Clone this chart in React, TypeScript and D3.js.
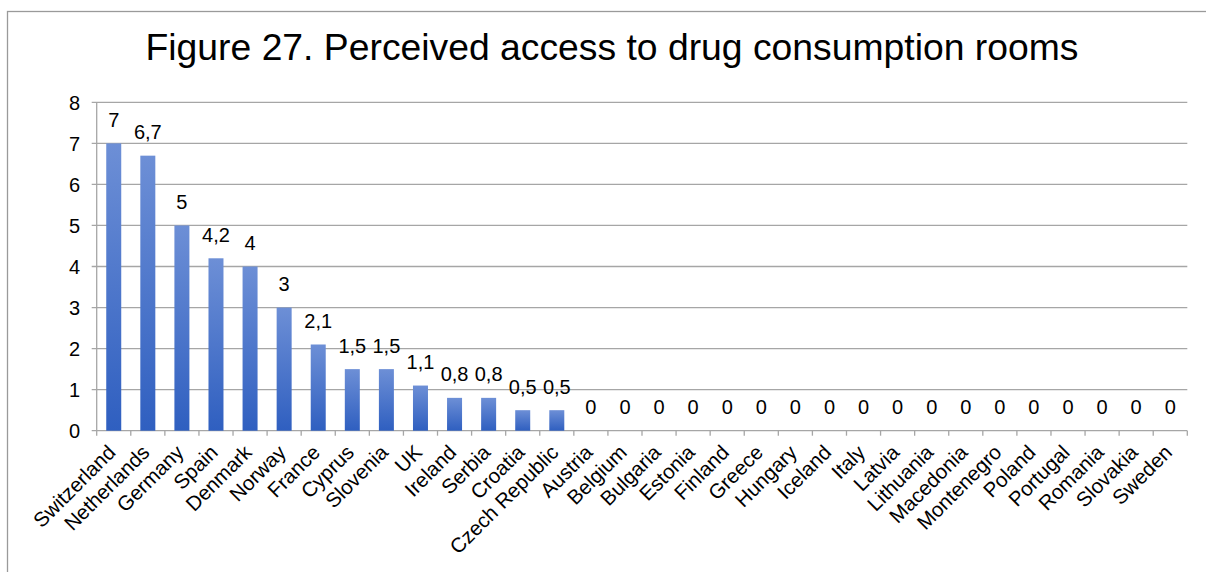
import React from "react";
import * as d3 from "d3";

const countries = [
  "Switzerland", "Netherlands", "Germany", "Spain", "Denmark", "Norway", "France",
  "Cyprus", "Slovenia", "UK", "Ireland", "Serbia", "Croatia", "Czech Republic",
  "Austria", "Belgium", "Bulgaria", "Estonia", "Finland", "Greece", "Hungary",
  "Iceland", "Italy", "Latvia", "Lithuania", "Macedonia", "Montenegro", "Poland",
  "Portugal", "Romania", "Slovakia", "Sweden",
];
const access = [
  7, 6.7, 5, 4.2, 4, 3, 2.1, 1.5, 1.5, 1.1, 0.8, 0.8, 0.5, 0.5,
  0, 0, 0, 0, 0, 0, 0, 0, 0, 0, 0, 0, 0, 0, 0, 0, 0, 0,
];
const yTicks = [0, 1, 2, 3, 4, 5, 6, 7, 8];
const title = "Figure 27. Perceived access to drug consumption rooms";

const W = 1206;
const H = 572;
const plot = { left: 96.7, right: 1187.3, top: 102.3, bottom: 430.7 };
const font = "'Liberation Sans', Arial, Helvetica, sans-serif";
const gridColor = "#a6a6a6";

export default function App() {
  const x = d3
    .scaleBand<string>()
    .domain(countries)
    .range([plot.left, plot.right])
    .padding(0);
  const y = d3.scaleLinear().domain([0, 8]).range([plot.bottom, plot.top]);
  const step = x.step();
  const barW = step * 0.44;
  const fmt = (v: number) => String(v).replace(".", ",");

  return (
    <svg
      width={W}
      height={H}
      style={{ position: "absolute", left: 0, top: 0, background: "#fff" }}
      fontFamily={font}
    >
      <defs>
        <linearGradient id="barFill" x1="0" y1="0" x2="0" y2="1">
          <stop offset="0" stopColor="#6d8fd6" />
          <stop offset="1" stopColor="#2f5fc0" />
        </linearGradient>
      </defs>

      {/* chart frame, open towards the right and bottom */}
      <rect x={7.5} y={11.5} width={W + 20} height={H + 20} fill="#fff" stroke="#9a9a9a" strokeWidth={1.3} />

      <text x={612} y={60} textAnchor="middle" fontSize={37.3} fill="#000">
        {title}
      </text>

      {/* horizontal gridlines */}
      {yTicks.map((t) => (
        <line
          key={`g${t}`}
          x1={plot.left - 5}
          x2={plot.right}
          y1={y(t)}
          y2={y(t)}
          stroke={gridColor}
          strokeWidth={1.3}
        />
      ))}
      {yTicks.map((t) => (
        <text
          key={`yl${t}`}
          x={plot.left - 16.5}
          y={y(t)}
          dy="0.36em"
          textAnchor="end"
          fontSize={20}
          fill="#000"
        >
          {t}
        </text>
      ))}

      {/* vertical axis */}
      <line x1={plot.left} x2={plot.left} y1={plot.top} y2={plot.bottom + 5} stroke={gridColor} strokeWidth={1.3} />

      {/* category tick marks */}
      {countries.map((c) => (
        <line
          key={`t${c}`}
          x1={(x(c) as number) + step}
          x2={(x(c) as number) + step}
          y1={plot.bottom}
          y2={plot.bottom + 5}
          stroke={gridColor}
          strokeWidth={1.3}
        />
      ))}

      {/* bars */}
      {countries.map((c, i) => {
        const cx = (x(c) as number) + step / 2;
        const v = access[i];
        return v > 0 ? (
          <rect
            key={`b${c}`}
            x={cx - barW / 2}
            y={y(v)}
            width={barW}
            height={y(0) - y(v)}
            fill="url(#barFill)"
          />
        ) : null;
      })}

      {/* value labels */}
      {countries.map((c, i) => {
        const cx = (x(c) as number) + step / 2;
        return (
          <text
            key={`v${c}`}
            x={cx}
            y={y(access[i]) - 16.5}
            textAnchor="middle"
            fontSize={20}
            fill="#000"
          >
            {fmt(access[i])}
          </text>
        );
      })}

      {/* category labels */}
      {countries.map((c) => {
        const cx = (x(c) as number) + step / 2 + 3;
        const cy = plot.bottom + 23;
        return (
          <text
            key={`c${c}`}
            transform={`translate(${cx},${cy}) rotate(-45)`}
            textAnchor="end"
            fontSize={20.5}
            fill="#000"
          >
            {c}
          </text>
        );
      })}
    </svg>
  );
}
